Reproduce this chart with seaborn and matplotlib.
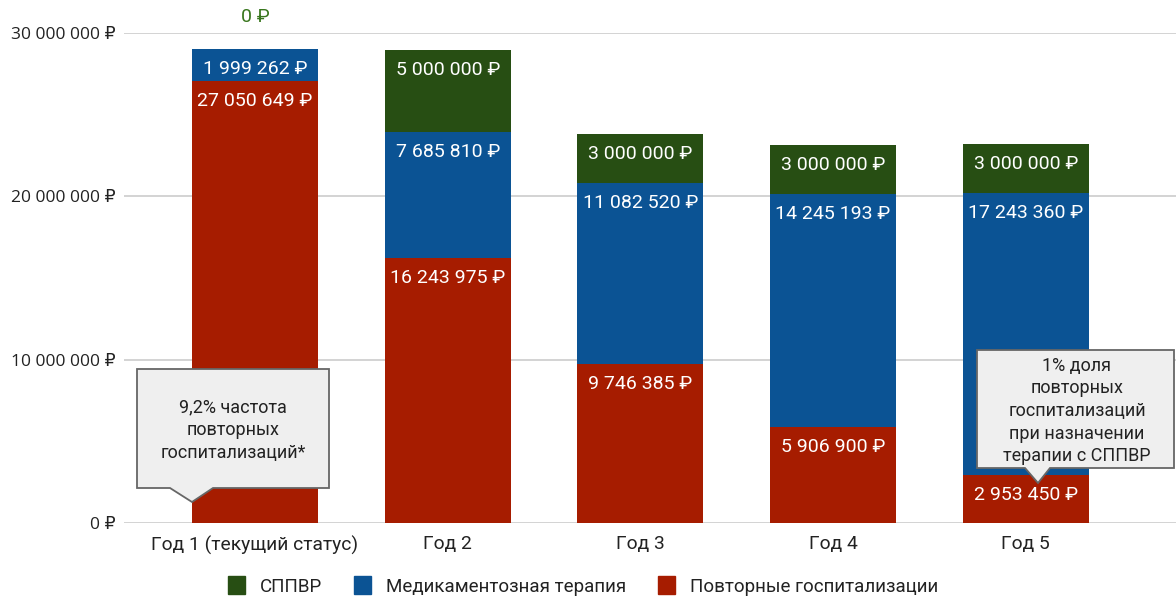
import numpy as np
import pandas as pd
import matplotlib.pyplot as plt
from matplotlib.patches import Polygon, Patch
import seaborn as sns

# chart data
years = ["Год 1 (текущий статус)", "Год 2", "Год 3", "Год 4", "Год 5"]
rehosp = [27050649, 16243975, 9746385, 5906900, 2953450]
drugs = [1999262, 7685810, 11082520, 14245193, 17243360]
cdss = [0, 5000000, 3000000, 3000000, 3000000]
series_names = ["СППВР", "Медикаментозная терапия", "Повторные госпитализации"]
yticks = [0, 10000000, 20000000, 30000000]
note_left = "9,2% частота\nповторных\nгоспитализаций*"
note_right = "1% доля\nповторных\nгоспитализаций\nпри назначении\nтерапии с СППВР"

pallet = ["#274e13", "#0b5394", "#a61c00"]

sns.set_theme(style="white")
plt.rcParams["font.family"] = ["Roboto", "DejaVu Sans"]


def rub(v):
    return f"{v:,}".replace(",", " ") + " ₽"


df = pd.DataFrame({"year": years, "red": rehosp, "blue": drugs, "green": cdss})
df["top_blue"] = df["red"] + df["blue"]
df["top_green"] = df["top_blue"] + df["green"]

W, H = 1176, 598
fig = plt.figure(figsize=(W / 100, H / 100), dpi=100)
ax = fig.add_axes([124 / W, 1 - 523 / H, (1176 - 124) / W, (523 - 33) / H])

# stacked bars drawn as overlaid cumulative totals
for col, c in zip(["top_green", "top_blue", "red"], pallet):
    sns.barplot(data=df, x="year", y=col, color=c, width=0.655, saturation=1,
                linewidth=0, ax=ax, zorder=2)

ax.set_xlim(-0.68, 4.78)
ax.set_ylim(0, 30000000)
ax.set_yticks(yticks)
ax.set_yticklabels([rub(v) for v in yticks], fontsize=12.5, color="#222222",
                   family=["Open Sans", "DejaVu Sans"])
ax.set_xticks(range(len(years)))
ax.set_xticklabels(years, fontsize=13.9, color="#222222")
ax.tick_params(axis="x", length=0, pad=9)
ax.tick_params(axis="y", length=0, pad=6)
ax.set_xlabel("")
ax.set_ylabel("")
ax.grid(axis="y", color="#cccccc", lw=1.2, zorder=0)
for s in ax.spines.values():
    s.set_visible(False)

# segment labels
for i in range(len(years)):
    segs = [(df["top_green"][i], cdss[i]), (df["top_blue"][i], drugs[i]), (rehosp[i], rehosp[i])]
    for top, val in segs:
        if val == 0:
            ax.annotate(rub(val), (i, top), xytext=(0, 32), textcoords="offset pixels",
                        ha="center", va="center", fontsize=14, color="#38761d",
                        annotation_clip=False)
            continue
        ax.annotate(rub(val), (i, top), xytext=(0, -20), textcoords="offset pixels",
                    ha="center", va="center", fontsize=14, color="white", zorder=3)


# callout boxes, in figure pixels
def callout(pts, text, cx, cy):
    poly = Polygon([(x / W, 1 - y / H) for x, y in pts], closed=True, transform=fig.transFigure,
                   facecolor="#efefef", edgecolor="#666666", lw=1.3, zorder=5)
    fig.patches.append(poly)
    fig.text(cx / W, 1 - cy / H, text, ha="center", va="center", fontsize=13,
             color="#222222", linespacing=1.33, zorder=6)


callout([(137, 369), (329, 369), (329, 488), (213, 488), (192, 502), (170, 488), (137, 488)],
        note_left, 233, 430)
callout([(977, 350), (1174, 350), (1174, 468), (1050, 468), (1038, 483), (1025, 468), (977, 468)],
        note_right, 1077, 411)

handles = [Patch(facecolor=c, edgecolor=c) for c in pallet]
fig.legend(handles, series_names, loc="center", bbox_to_anchor=(583 / W, 1 - 586 / H), ncol=3,
           frameon=False, fontsize=13.5, handlelength=0.9, handleheight=1.1,
           handletextpad=0.8, columnspacing=1.7, labelcolor="#222222")

plt.savefig("out.png", dpi=100)
